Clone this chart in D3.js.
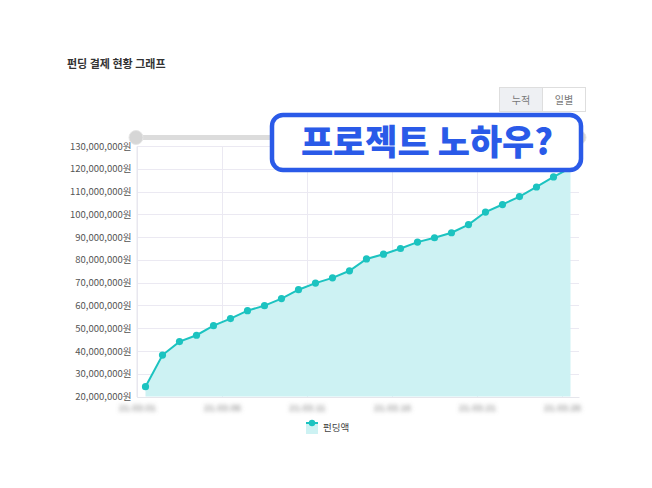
<!DOCTYPE html>
<html>
<head>
<meta charset="utf-8">
<script src="https://cdn.jsdelivr.net/npm/d3@7"></script>
<style>
  body { margin: 0; background: #fff; font-family: "Noto Sans CJK KR", "Noto Sans", sans-serif; }
  svg { display: block; }
</style>
</head>
<body>
<svg id="chart" width="652" height="488"></svg>
<script>
// funding amounts per day (won)
const days = ["2021-03-01","2021-03-02","2021-03-03","2021-03-04","2021-03-05","2021-03-06","2021-03-07",
  "2021-03-08","2021-03-09","2021-03-10","2021-03-11","2021-03-12","2021-03-13","2021-03-14","2021-03-15",
  "2021-03-16","2021-03-17","2021-03-18","2021-03-19","2021-03-20","2021-03-21","2021-03-22","2021-03-23",
  "2021-03-24","2021-03-25","2021-03-26"];
const funding = [24.3, 38.2, 44.1, 46.9, 51.1, 54.2, 57.7, 59.9, 63.0, 66.9, 69.8, 72.1, 75.2,
  80.4, 82.5, 85.0, 87.8, 89.7, 91.9, 95.5, 101.0, 104.3, 107.8, 112.0, 116.4, 120.4].map(v => v * 1e6);
const xTicks = ["2021-03-01","2021-03-06","2021-03-11","2021-03-16","2021-03-21","2021-03-26"];
const yTicks = [20,30,40,50,60,70,80,90,100,110,120,130].map(v => v * 1e6);
const title = "펀딩 결제 현황 그래프";
const tabs = ["누적", "일별"];
const seriesName = "펀딩액";

const parse = d3.timeParse("%Y-%m-%d");
const data = days.map((d, i) => ({ date: d3.timeHour.offset(parse(d), 12), value: funding[i] }));

const svg = d3.select("#chart");
const teal = "#1cc3c0";

const xscale = d3.scaleTime().domain([parse(days[0]), d3.timeDay.offset(parse(days[days.length - 1]), 1)])
    .range([137, 579]);
const yscale = d3.scaleLinear().domain([20e6, 130e6]).range([396.5, 146]);

// blur for the date labels
svg.append("defs").append("filter").attr("id", "blur")
    .attr("x", "-30%").attr("y", "-80%").attr("width", "160%").attr("height", "260%")
    .append("feGaussianBlur").attr("stdDeviation", 2);

// title
svg.append("text").attr("x", 67).attr("y", 68)
    .attr("font-size", 11).attr("font-weight", 700).attr("fill", "#333")
    .text(title);

// tab buttons
const gTabs = svg.append("g");
tabs.forEach((t, i) => {
    gTabs.append("rect").attr("x", 499.5 + i * 43).attr("y", 87.5).attr("width", 43).attr("height", 24)
        .attr("fill", i === 0 ? "#eef0f3" : "#fff").attr("stroke", "#dedede");
    gTabs.append("text").attr("x", 521 + i * 43).attr("y", 103.5).attr("text-anchor", "middle")
        .attr("font-size", 10).attr("fill", "#777").text(t);
});

// grid
const gGrid = svg.append("g");
gGrid.selectAll("line.h").data(yTicks).join("line").attr("class", "h")
    .attr("x1", 137).attr("x2", 579)
    .attr("y1", d => Math.round(yscale(d)) + 0.5).attr("y2", d => Math.round(yscale(d)) + 0.5)
    .attr("stroke", "#ebe9f2");
gGrid.selectAll("line.v").data(xTicks).join("line").attr("class", "v")
    .attr("x1", d => Math.round(xscale(parse(d))) + 0.5).attr("x2", d => Math.round(xscale(parse(d))) + 0.5)
    .attr("y1", 146).attr("y2", 397)
    .attr("stroke", "#ebe9f2");

// y axis
const yAxis = d3.axisLeft(yscale).tickValues(yTicks).tickSize(0).tickPadding(5)
    .tickFormat(d => d3.format(",")(d) + "원");
const gy = svg.append("g").attr("transform", "translate(136.5,0)").call(yAxis);
gy.select(".domain").attr("stroke", "#e6e6ec");
gy.selectAll("text").attr("font-size", 9.5).attr("fill", "#555")
    .attr("font-family", "'Noto Sans CJK KR', sans-serif");

// x axis
const xAxis = d3.axisBottom(xscale).tickValues(xTicks.map(parse)).tickSize(0).tickPadding(7)
    .tickFormat(d3.timeFormat("%y.%m.%d"));
const gx = svg.append("g").attr("transform", "translate(0,397)").call(xAxis);
gx.select(".domain").attr("stroke", "#e6e6ec");
gx.selectAll("text").attr("font-size", 9.5).attr("fill", "#777").attr("filter", "url(#blur)");

// area + line
const area = d3.area().x(d => xscale(d.date)).y0(yscale(20e6)).y1(d => yscale(d.value));
const line = d3.line().x(d => xscale(d.date)).y(d => yscale(d.value));
svg.append("path").datum(data).attr("d", area).attr("fill", "#cdf2f3");
svg.append("path").datum(data).attr("d", line).attr("fill", "none").attr("stroke", teal).attr("stroke-width", 2);
svg.append("g").selectAll("circle").data(data).join("circle")
    .attr("cx", d => xscale(d.date)).attr("cy", d => yscale(d.value)).attr("r", 3.6).attr("fill", teal);

// range slider
svg.append("rect").attr("x", 136).attr("y", 135).attr("width", 443).attr("height", 5).attr("fill", "#dcdcdc");
svg.selectAll("circle.handle").data([136, 579]).join("circle").attr("class", "handle")
    .attr("cx", d => d).attr("cy", 137.5).attr("r", 7).attr("fill", "#d6d6d6").attr("stroke", "#e6e6e6");

// legend
const gLeg = svg.append("g").attr("transform", "translate(306,420)");
gLeg.append("rect").attr("x", 0).attr("y", 2).attr("width", 12).attr("height", 12).attr("fill", "#cdf2f3");
gLeg.append("line").attr("x1", 0).attr("x2", 12).attr("y1", 3).attr("y2", 3).attr("stroke", teal).attr("stroke-width", 2);
gLeg.append("circle").attr("cx", 6).attr("cy", 3).attr("r", 3.2).attr("fill", teal);
gLeg.append("text").attr("x", 17).attr("y", 11).attr("font-size", 9.5).attr("fill", "#444").text(seriesName);

// overlay badge
svg.append("rect").attr("x", 272).attr("y", 115).attr("width", 309).attr("height", 55).attr("rx", 11)
    .attr("fill", "#fff").attr("stroke", "#2a5ae8").attr("stroke-width", 4.5);
svg.append("text").attr("x", 427).attr("y", 155).attr("text-anchor", "middle")
    .attr("font-size", 35).attr("font-weight", 900).attr("fill", "#2a5ae8")
    .text("프로젝트 노하우?");
</script>
</body>
</html>
